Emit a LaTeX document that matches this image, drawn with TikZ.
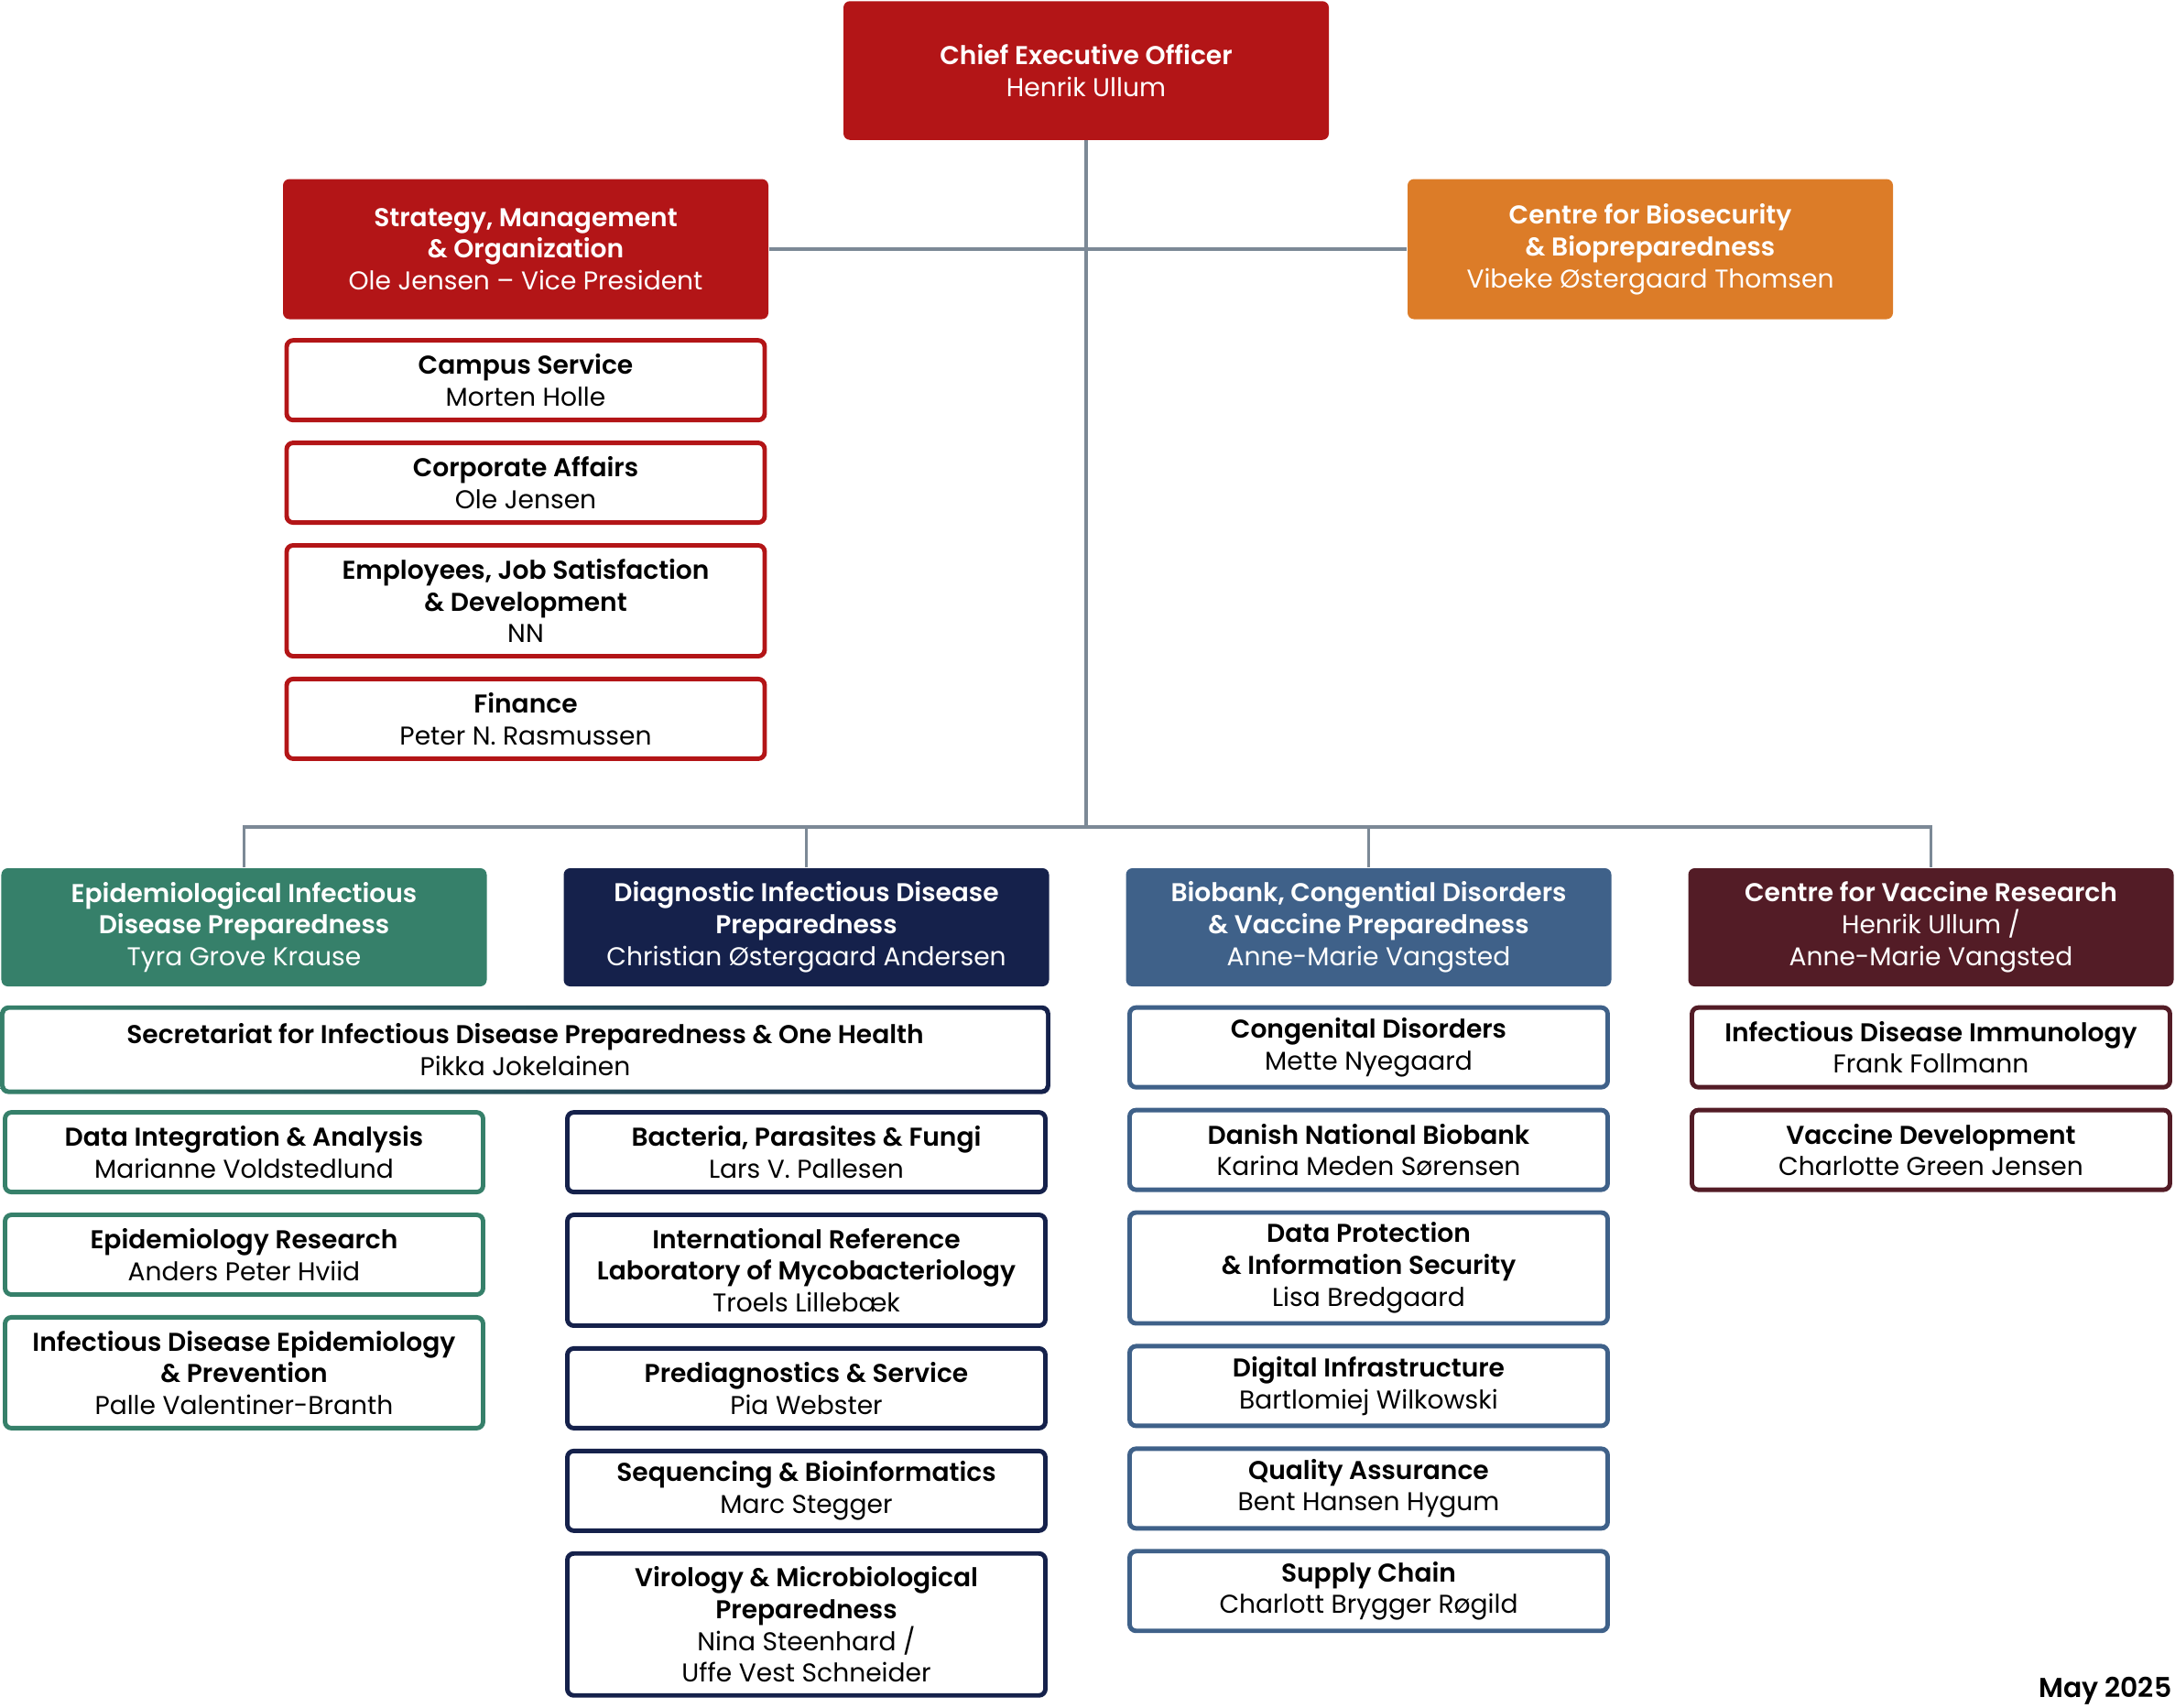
\documentclass[tikz,border=0pt]{standalone}
\usepackage{fontspec}
\setmainfont{Poppins}[BoldFont={Poppins SemiBold}]
\usetikzlibrary{positioning,calc,backgrounds}
\usepackage{xcolor}
\definecolor{redc}{HTML}{B31517}
\definecolor{orangec}{HTML}{DC7C28}
\definecolor{greenc}{HTML}{36806A}
\definecolor{navyc}{HTML}{15214B}
\definecolor{bluec}{HTML}{3F6189}
\definecolor{maroonc}{HTML}{531C26}
\definecolor{linec}{HTML}{7C8996}

\begin{document}
\begin{tikzpicture}[node distance=0.20cm, every node/.style={font=\fontsize{8}{9.9}\selectfont}]
    \tikzstyle{head} = [rectangle, rounded corners=2pt, text=white, minimum width=5.30cm, align=center, inner sep=0pt]
    \tikzstyle{unit} = [rectangle, rounded corners=2pt, draw, line width=1.4pt, fill=white, minimum width=5.22cm, align=center, inner sep=0pt]
    \tikzstyle{two} = [minimum height=0.87cm]
    \tikzstyle{three} = [minimum height=1.21cm]
    \tikzstyle{four} = [minimum height=1.55cm]
    \tikzstyle{link} = [draw=linec, line width=1.1pt]

    \useasboundingbox (0,0) rectangle (23.75,-18.64);

    % Management
    \node[head, fill=redc, minimum height=1.515cm] (ceo) at (11.86,-0.77) {\textbf{Chief Executive Officer}\\Henrik Ullum};
    \node[head, fill=redc, minimum height=1.53cm] (sma) at (5.74,-2.72) {\textbf{Strategy, Management}\\\textbf{\& Organization}\\Ole Jensen – Vice President};
    \node[head, fill=orangec, minimum height=1.53cm] (cbb) at (18.02,-2.72) {\textbf{Centre for Biosecurity}\\\textbf{\& Biopreparedness}\\Vibeke Østergaard Thomsen};

    \node[unit, two, draw=redc] (campus) [below=of sma] {\textbf{Campus Service}\\Morten Holle};
    \node[unit, two, draw=redc] (affairs) [below=of campus] {\textbf{Corporate Affairs}\\Ole Jensen};
    \node[unit, three, draw=redc] (employees) [below=of affairs] {\textbf{Employees, Job Satisfaction}\\\textbf{\& Development}\\NN};
    \node[unit, two, draw=redc] (finance) [below=of employees] {\textbf{Finance}\\Peter N. Rasmussen};

    % Divisions
    \node[head, fill=greenc, minimum height=1.29cm] (epi) at (2.665,-10.125) {\textbf{Epidemiological Infectious}\\\textbf{Disease Preparedness}\\Tyra Grove Krause};
    \node[head, fill=navyc, minimum height=1.29cm] (dip) at (8.805,-10.125) {\textbf{Diagnostic Infectious Disease}\\\textbf{Preparedness}\\Christian Østergaard Andersen};
    \node[head, fill=bluec, minimum height=1.29cm] (bcv) at (14.945,-10.125) {\textbf{Biobank, Congential Disorders}\\\textbf{\& Vaccine Preparedness}\\Anne-Marie Vangsted};
    \node[head, fill=maroonc, minimum height=1.29cm] (cvr) at (21.085,-10.125) {\textbf{Centre for Vaccine Research}\\Henrik Ullum /\\Anne-Marie Vangsted};

    % Secretariat
    \coordinate (secmid) at ($(epi.south)!0.5!(dip.south)$);
    \node[unit, two, draw=none, fill=none, minimum width=11.37cm] (sec) [below=0.225cm of secmid] {\textbf{Secretariat for Infectious Disease Preparedness \& One Health}\\Pikka Jokelainen};
    \begin{scope}[on background layer]
        \shade[left color=greenc, right color=navyc, rounded corners=2.6pt] ([shift={(-0.7pt,0.7pt)}]sec.north west) rectangle ([shift={(0.7pt,-0.7pt)}]sec.south east);
        \fill[white, rounded corners=1.4pt] ([shift={(0.7pt,-0.7pt)}]sec.north west) rectangle ([shift={(-0.7pt,0.7pt)}]sec.south east);
    \end{scope}
    \coordinate (secl) at (sec.south -| epi.south);
    \coordinate (secr) at (sec.south -| dip.south);

    % Epidemiology
    \node[unit, two, draw=greenc] (dia) [below=of secl] {\textbf{Data Integration \& Analysis}\\Marianne Voldstedlund};
    \node[unit, two, draw=greenc] (epr) [below=of dia] {\textbf{Epidemiology Research}\\Anders Peter Hviid};
    \node[unit, three, draw=greenc] (idep) [below=of epr] {\textbf{Infectious Disease Epidemiology}\\\textbf{\& Prevention}\\Palle Valentiner-Branth};

    % Diagnostics
    \node[unit, two, draw=navyc] (bpf) [below=of secr] {\textbf{Bacteria, Parasites \& Fungi}\\Lars V. Pallesen};
    \node[unit, three, draw=navyc] (irl) [below=of bpf] {\textbf{International Reference}\\\textbf{Laboratory of Mycobacteriology}\\Troels Lillebæk};
    \node[unit, two, draw=navyc] (pre) [below=of irl] {\textbf{Prediagnostics \& Service}\\Pia Webster};
    \node[unit, two, draw=navyc] (seq) [below=of pre] {\textbf{Sequencing \& Bioinformatics}\\Marc Stegger};
    \node[unit, four, draw=navyc] (vir) [below=of seq] {\textbf{Virology \& Microbiological}\\\textbf{Preparedness}\\Nina Steenhard /\\Uffe Vest Schneider};

    % Biobank
    \node[unit, two, draw=bluec] (cod) [below=of bcv] {\textbf{Congenital Disorders}\\Mette Nyegaard};
    \node[unit, two, draw=bluec] (dnb) [below=of cod] {\textbf{Danish National Biobank}\\Karina Meden Sørensen};
    \node[unit, three, draw=bluec] (dpi) [below=of dnb] {\textbf{Data Protection}\\\textbf{\& Information Security}\\Lisa Bredgaard};
    \node[unit, two, draw=bluec] (dig) [below=of dpi] {\textbf{Digital Infrastructure}\\Bartlomiej Wilkowski};
    \node[unit, two, draw=bluec] (qa) [below=of dig] {\textbf{Quality Assurance}\\Bent Hansen Hygum};
    \node[unit, two, draw=bluec] (sup) [below=of qa] {\textbf{Supply Chain}\\Charlott Brygger Røgild};

    % Vaccine research
    \node[unit, two, draw=maroonc] (idi) [below=of cvr] {\textbf{Infectious Disease Immunology}\\Frank Follmann};
    \node[unit, two, draw=maroonc] (vdev) [below=of idi] {\textbf{Vaccine Development}\\Charlotte Green Jensen};

    \node[anchor=base east, inner sep=0pt, font=\fontsize{8.5}{9.9}\selectfont\bfseries] (date) at (23.72,-18.53) {May 2025};

    % Lines
    \coordinate (bus) at (11.86,-9.03);
    \begin{scope}[on background layer]
        \draw[link] (ceo) -- (bus);
        \draw[link] (sma) -- (cbb);
        \draw[link] (epi.north) |- (bus) -| (cvr.north);
        \draw[link] (dip.north) -- (dip.north |- bus);
        \draw[link] (bcv.north) -- (bcv.north |- bus);
    \end{scope}
\end{tikzpicture}
\end{document}
